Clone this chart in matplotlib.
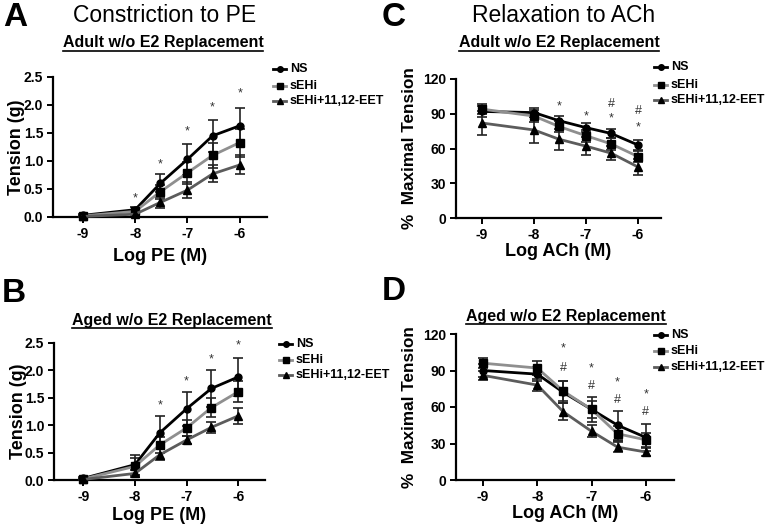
import matplotlib
matplotlib.use("Agg")
import matplotlib.pyplot as plt
from matplotlib.lines import Line2D

plt.rcParams['font.family'] = ['Liberation Sans', 'DejaVu Sans']

W, H = 769, 526

# log concentrations
log_dose = [-9, -8, -7.52, -7, -6.52, -6]
series = ["NS", "sEHi", "sEHi+11,12-EET"]

# Panel A - constriction to PE, adult
a_ns = [0.03, 0.13, 0.60, 1.03, 1.45, 1.63]
a_ns_err = [0.02, 0.04, 0.16, 0.28, 0.29, 0.32]
a_sehi = [0.02, 0.10, 0.45, 0.79, 1.10, 1.33]
a_sehi_err = [0.01, 0.03, 0.12, 0.20, 0.22, 0.25]
a_eet = [0.01, 0.05, 0.26, 0.48, 0.77, 0.93]
a_eet_err = [0.01, 0.02, 0.10, 0.14, 0.15, 0.17]

# Panel B - constriction to PE, aged
b_ns = [0.03, 0.28, 0.86, 1.30, 1.67, 1.88]
b_ns_err = [0.02, 0.18, 0.30, 0.31, 0.33, 0.34]
b_sehi = [0.02, 0.25, 0.64, 0.95, 1.32, 1.61]
b_sehi_err = [0.01, 0.15, 0.15, 0.14, 0.17, 0.19]
b_eet = [0.01, 0.12, 0.46, 0.73, 0.96, 1.17]
b_eet_err = [0.01, 0.06, 0.10, 0.07, 0.10, 0.15]

# Panel C - relaxation to ACh, adult
c_ns = [92, 91, 84, 78, 73, 63]
c_ns_err = [5, 4, 4, 4, 4, 4]
c_sehi = [94, 88, 79, 71, 64, 53]
c_sehi_err = [4, 5, 5, 5, 5, 5]
c_eet = [82, 76, 68, 62, 56, 44]
c_eet_err = [10, 11, 9, 8, 6, 7]

# Panel D - relaxation to ACh, aged
d_ns = [90, 87, 72, 58, 45, 35]
d_ns_err = [5, 6, 9, 10, 12, 11]
d_sehi = [96, 92, 73, 58, 38, 33]
d_sehi_err = [4, 6, 8, 7, 6, 6]
d_eet = [86, 78, 56, 40, 27, 23]
d_eet_err = [4, 5, 7, 5, 4, 3]

# significance marks: (x, y, symbol)
a_marks = [(-8, 0.33, "*"), (-7.52, 0.94, "*"), (-7, 1.52, "*"), (-6.52, 1.96, "*"), (-6, 2.2, "*")]
b_marks = [(-7.52, 1.36, "*"), (-7, 1.8, "*"), (-6.52, 2.2, "*"), (-6, 2.45, "*")]
c_marks = [(-7.52, 96, "*"), (-7, 88, "*"), (-6.52, 98, "#"), (-6.52, 86, "*"),
           (-6, 92, "#"), (-6, 78, "*")]
d_marks = [(-7.52, 108, "*"), (-7.52, 92, "#"), (-7, 92, "*"), (-7, 77, "#"),
           (-6.52, 80, "*"), (-6.52, 66, "#"), (-6, 70, "*"), (-6, 56, "#")]

colors = ["black", "#8f8f8f", "#5c5c5c"]
markers = ["o", "s", "^"]
msizes = [5, 5.5, 5.5]

fig = plt.figure(figsize=(W / 100, H / 100), dpi=100)


def px_axes(left, right, top, bottom):
    return fig.add_axes([left / W, 1 - bottom / H, (right - left) / W, (bottom - top) / H])


def draw_panel(ax, data, ylim, yticks, xlim, xlabel, ylabel, ylsize, marks, ylabel_x, xlabel_y):
    for (y, err), c, m, ms in zip(data, colors, markers, msizes):
        ax.errorbar(log_dose, y, yerr=err, color=c, lw=2, marker=m, ms=ms,
                    mfc="black", mec="black", ecolor="#222222", elinewidth=1.2,
                    capsize=3.5, capthick=1.2, clip_on=False, zorder=3)
    for x, y, s in marks:
        ax.text(x, y, s, ha="center", va="center", fontsize=9, color="#333333")
    ax.set_xlim(*xlim)
    ax.set_ylim(*ylim)
    ax.set_yticks(yticks)
    ax.set_xticks([-9, -8, -7, -6])
    ax.set_xticklabels(["-9", "-8", "-7", "-6"])
    for s in ["top", "right"]:
        ax.spines[s].set_visible(False)
    for s in ["left", "bottom"]:
        ax.spines[s].set_linewidth(1.6)
    ax.tick_params(width=1.4, length=4, labelsize=10, pad=3)
    for lab in ax.get_xticklabels() + ax.get_yticklabels():
        lab.set_fontweight("bold")
    ax.set_xlabel(xlabel, fontsize=13, fontweight="bold")
    ax.set_ylabel(ylabel, fontsize=ylsize, fontweight="bold")
    ax.yaxis.set_label_coords(ylabel_x, 0.5)
    ax.xaxis.set_label_coords(0.5, xlabel_y)


def legend_px(x0, ys):
    for lab, c, m, ms, y in zip(series, colors, markers, msizes, ys):
        fy = 1 - y / H
        fig.add_artist(Line2D([x0 / W, (x0 + 13) / W], [fy, fy], color=c, lw=2,
                              transform=fig.transFigure))
        fig.add_artist(Line2D([(x0 + 6.5) / W], [fy], color="black", marker=m, ms=ms - 1,
                              transform=fig.transFigure))
        fig.text((x0 + 17) / W, fy, lab, fontsize=9, fontweight="bold", va="center")


# panel A
axA = px_axes(53, 267, 77, 217)
draw_panel(axA, [(a_ns, a_ns_err), (a_sehi, a_sehi_err), (a_eet, a_eet_err)],
           (0, 2.5), [0, 0.5, 1.0, 1.5, 2.0, 2.5], (-9.57, -5.48),
           "Log PE (M)", "Tension (g)", 13, a_marks, -0.13, -0.22)
axA.set_yticklabels(["0.0", "0.5", "1.0", "1.5", "2.0", "2.5"])

# panel B
axB = px_axes(54, 265, 343, 480)
draw_panel(axB, [(b_ns, b_ns_err), (b_sehi, b_sehi_err), (b_eet, b_eet_err)],
           (0, 2.5), [0, 0.5, 1.0, 1.5, 2.0, 2.5], (-9.57, -5.48),
           "Log PE (M)", "Tension (g)", 13, b_marks, -0.13, -0.2)
axB.set_yticklabels(["0.0", "0.5", "1.0", "1.5", "2.0", "2.5"])

# panel C
axC = px_axes(456, 661, 79, 218)
draw_panel(axC, [(c_ns, c_ns_err), (c_sehi, c_sehi_err), (c_eet, c_eet_err)],
           (0, 120), [0, 30, 60, 90, 120], (-9.5, -5.56),
           "Log ACh (M)", "%  Maximal Tension", 12.3, c_marks, -0.19, -0.18)

# panel D
axD = px_axes(456, 674, 334, 480)
draw_panel(axD, [(d_ns, d_ns_err), (d_sehi, d_sehi_err), (d_eet, d_eet_err)],
           (0, 120), [0, 30, 60, 90, 120], (-9.5, -5.48),
           "Log ACh (M)", "%  Maximal Tension", 12.3, d_marks, -0.18, -0.17)

legend_px(273, [69, 86, 101])
legend_px(279, [344, 360, 375])
legend_px(654, [67, 85, 100])
legend_px(654, [335, 351, 367])

# panel letters and titles
for letter, x, y in [("A", 15, 18), ("B", 14, 293), ("C", 394, 17), ("D", 394, 291)]:
    fig.text(x / W, 1 - y / H, letter, fontsize=24, fontweight="bold", ha="center", va="center")
fig.text(165 / W, 1 - 15 / H, "Constriction to PE", fontsize=16.5, ha="center", va="center")
fig.text(564 / W, 1 - 15 / H, "Relaxation to ACh", fontsize=16.5, ha="center", va="center")

subs = []
for txt, x, y in [("Adult w/o E2 Replacement", 163, 43), ("Adult w/o E2 Replacement", 559, 43),
                  ("Aged w/o E2 Replacement", 172, 320), ("Aged w/o E2 Replacement", 566, 316)]:
    subs.append(fig.text(x / W, 1 - y / H, txt, fontsize=11.5, fontweight="bold",
                         ha="center", va="center"))

# underline subtitles
fig.canvas.draw()
r = fig.canvas.get_renderer()
for t in subs:
    bb = t.get_window_extent(r)
    uy = (bb.y0 - 0.5) / H
    fig.add_artist(Line2D([bb.x0 / W, bb.x1 / W], [uy, uy], color="black", lw=1.2,
                          transform=fig.transFigure))

fig.savefig("out.png", dpi=100)
